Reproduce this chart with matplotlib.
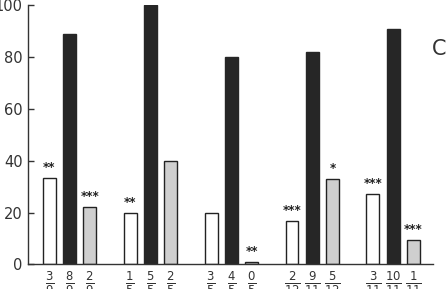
import numpy as np
from matplotlib import pyplot as plt

plt.rcParams['font.family'] = 'DejaVu Sans'
plt.rcParams['mathtext.fontset'] = 'dejavusans'

# percent of animals per group: open, filled, stippled bars
open_vals = [33.3, 20, 20, 16.7, 27.3]
black_vals = [88.9, 100, 80, 82, 91]
gray_vals = [22.2, 40, 1, 33, 9.5]

open_frac = [('3', '9'), ('1', '5'), ('3', '5'), ('2', '12'), ('3', '11')]
black_frac = [('8', '9'), ('5', '5'), ('4', '5'), ('9', '11'), ('10', '11')]
gray_frac = [('2', '9'), ('2', '5'), ('0', '5'), ('5', '12'), ('1', '11')]

open_stars = ['**', '**', '', '***', '***']
gray_stars = ['***', '', '**', '*', '***']

fig = plt.figure(figsize=(4.48, 2.89), dpi=100)
ax = fig.add_axes([0.0625, 0.0855, 0.904, 0.896])

g = np.arange(5) * 4
w = 0.64
ax.bar(g, open_vals, w, color='white', edgecolor='#222222', linewidth=1.0)
ax.bar(g + 1, black_vals, w, color='#262626', edgecolor='#262626', linewidth=1.0)
ax.bar(g + 2, gray_vals, w, color='#cfcfcf', edgecolor='#222222', linewidth=1.0)

for i in range(5):
    if open_stars[i]:
        ax.text(g[i], open_vals[i] + 1.5, open_stars[i], ha='center', va='bottom',
                fontsize=8.5, fontweight='bold', color='#222222')
    if gray_stars[i]:
        ax.text(g[i] + 2, gray_vals[i] + 1.5, gray_stars[i], ha='center', va='bottom',
                fontsize=8.5, fontweight='bold', color='#222222')

pos = np.stack([g, g + 1, g + 2], axis=1).ravel()
labels = []
for i in range(5):
    for f in (open_frac[i], black_frac[i], gray_frac[i]):
        labels.append(r'$\frac{%s}{%s}$' % f)
ax.set_xticks(pos)
ax.set_xticklabels(labels, fontsize=12, color='#333333')
ax.tick_params(axis='x', length=0, pad=4)

ax.set_xlim(-1.05, 18.97)
ax.set_ylim(0, 100)
ax.set_yticks([0, 20, 40, 60, 80, 100])
ax.tick_params(axis='y', direction='in', length=4, width=1, labelsize=10.5,
               colors='#333333', pad=4)
for s in ['top', 'right']:
    ax.spines[s].set_visible(False)
for s in ['left', 'bottom']:
    ax.spines[s].set_color('#333333')
    ax.spines[s].set_linewidth(1.0)

fig.text(0.965, 0.83, 'C', fontsize=15, color='#333333', va='center', ha='left')

fig.savefig('out.png', dpi=100)
